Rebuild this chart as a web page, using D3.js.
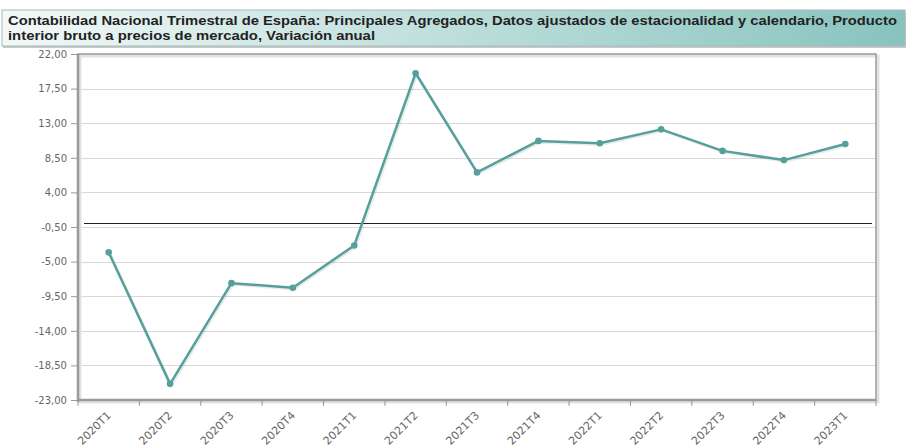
<!DOCTYPE html>
<html>
<head>
<meta charset="utf-8">
<script src="https://cdn.jsdelivr.net/npm/d3@7"></script>
<style>
  html, body { margin: 0; padding: 0; background: #ffffff; }
  svg { display: block; }
</style>
</head>
<body>
<svg id="chart" width="908" height="448"></svg>
<script>
const titleLines = [
  "Contabilidad Nacional Trimestral de España: Principales Agregados, Datos ajustados de estacionalidad y calendario, Producto",
  "interior bruto a precios de mercado, Variación anual"
];
const categories = ["2020T1","2020T2","2020T3","2020T4","2021T1","2021T2","2021T3","2021T4","2022T1","2022T2","2022T3","2022T4","2023T1"];
const values = [-3.8, -20.9, -7.8, -8.4, -2.9, 19.5, 6.6, 10.7, 10.4, 12.2, 9.4, 8.2, 10.3];
const yTicks = [22, 17.5, 13, 8.5, 4, -0.5, -5, -9.5, -14, -18.5, -23];

const svg = d3.select("#chart");
const pLeft = 78, pRight = 876, pTop = 54, pBottom = 400;

// Title box
const defs = svg.append("defs");
const grad = defs.append("linearGradient").attr("id", "tg").attr("x1", "0").attr("x2", "1").attr("y1", "0").attr("y2", "0");
grad.append("stop").attr("offset", "0%").attr("stop-color", "#f2f9f8");
grad.append("stop").attr("offset", "100%").attr("stop-color", "#88c3be");
svg.append("rect").attr("x", 3).attr("y", 12).attr("width", 903).attr("height", 36).attr("fill", "#c8c8c8");
svg.append("rect").attr("x", 2).attr("y", 10).attr("width", 903).attr("height", 36)
  .attr("fill", "url(#tg)").attr("stroke", "#a3bcba").attr("stroke-width", 1);
svg.append("g").selectAll("text").data(titleLines).join("text")
  .attr("x", 8).attr("y", (d, i) => 25 + i * 14.5)
  .attr("font-family", "Liberation Sans, Arial, sans-serif")
  .attr("font-weight", "bold").attr("font-size", 13).attr("fill", "#222")
  .attr("textLength", (d, i) => i === 0 ? 889 : 367)
  .attr("lengthAdjust", "spacingAndGlyphs")
  .text(d => d);

const x = d3.scaleBand().domain(categories).range([pLeft, pRight]).padding(0);
const y = d3.scaleLinear().domain([-23, 22]).range([pBottom, pTop]);
const fmt = v => d3.format(".2f")(v).replace(".", ",").replace("−", "-");

// Gridlines
svg.append("g").selectAll("line").data(yTicks).join("line")
  .attr("x1", pLeft).attr("x2", pRight)
  .attr("y1", d => Math.round(y(d)) + 0.5).attr("y2", d => Math.round(y(d)) + 0.5)
  .attr("stroke", "#d9d9d9").attr("stroke-width", 1);

// Border with shadow
svg.append("rect").attr("x", pLeft + 2).attr("y", pTop + 2).attr("width", pRight - pLeft).attr("height", pBottom - pTop)
  .attr("fill", "none").attr("stroke", "#e2e2e2").attr("stroke-width", 3);
svg.append("rect").attr("x", pLeft).attr("y", pTop).attr("width", pRight - pLeft).attr("height", pBottom - pTop)
  .attr("fill", "none").attr("stroke", "#9a9a9a").attr("stroke-width", 1.5);
svg.append("line").attr("x1", pLeft).attr("x2", pLeft).attr("y1", pTop).attr("y2", pBottom + 2)
  .attr("stroke", "#9a9a9a").attr("stroke-width", 2.5);
svg.append("line").attr("x1", pLeft).attr("x2", pRight).attr("y1", pBottom).attr("y2", pBottom)
  .attr("stroke", "#9a9a9a").attr("stroke-width", 2.5);

// Y axis
const yAxis = d3.axisLeft(y).tickValues(yTicks).tickFormat(fmt).tickSize(7).tickPadding(4);
const gy = svg.append("g").attr("transform", `translate(${pLeft},0)`).call(yAxis);
gy.select(".domain").remove();
gy.selectAll(".tick line").attr("stroke", "#999");
gy.selectAll(".tick text").attr("font-family", "DejaVu Sans, sans-serif").attr("font-size", 10).attr("fill", "#666");

// X axis ticks at band boundaries
const bounds = categories.map(c => x(c)).concat([pRight]);
svg.append("g").selectAll("line").data(bounds).join("line")
  .attr("x1", d => d).attr("x2", d => d).attr("y1", pBottom).attr("y2", pBottom + 6)
  .attr("stroke", "#999").attr("stroke-width", 1);
svg.append("g").selectAll("text").data(categories).join("text")
  .attr("transform", d => `translate(${x(d) + x.bandwidth() / 2 + 3},${pBottom + 16}) rotate(-45)`)
  .attr("text-anchor", "end")
  .attr("font-family", "DejaVu Sans, sans-serif").attr("font-size", 11).attr("fill", "#666")
  .text(d => d);

// Zero line
svg.append("line").attr("x1", pLeft + 6).attr("x2", pRight - 4)
  .attr("y1", Math.round(y(0)) + 0.5).attr("y2", Math.round(y(0)) + 0.5)
  .attr("stroke", "#222").attr("stroke-width", 1);

// Series
const pts = categories.map((c, i) => ({ c, v: values[i] }));
const line = d3.line().x(d => x(d.c) + x.bandwidth() / 2).y(d => y(d.v));
svg.append("path").datum(pts).attr("d", line).attr("fill", "none")
  .attr("stroke", "#000").attr("stroke-opacity", 0.08).attr("stroke-width", 2.5)
  .attr("transform", "translate(1.5,1.5)");
svg.append("path").datum(pts).attr("d", line).attr("fill", "none")
  .attr("stroke", "#55a09c").attr("stroke-width", 2.5).attr("stroke-linejoin", "round");
svg.append("g").selectAll("circle").data(pts).join("circle")
  .attr("cx", d => x(d.c) + x.bandwidth() / 2).attr("cy", d => y(d.v)).attr("r", 3.3)
  .attr("fill", "#55a09c");
</script>
</body>
</html>
